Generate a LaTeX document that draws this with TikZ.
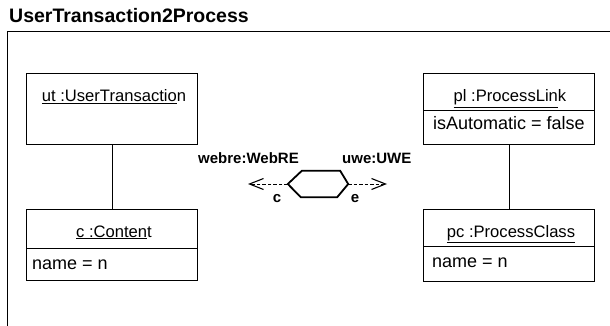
\documentclass[tikz,border=0pt]{standalone}
\usepackage{fontspec}
\setmainfont{Liberation Sans}
\usepackage{tikz}
\usetikzlibrary{arrows.meta,positioning,calc}

\begin{document}
\begin{tikzpicture}[
    x=1pt, y=-1pt,
    objbox/.style={rectangle, draw, line width=0.9pt, minimum width=171pt, inner sep=0pt, anchor=north west},
    objname/.style={font=\fontsize{16.6}{18}\selectfont, anchor=base, inner sep=0pt},
    attr/.style={font=\fontsize{18}{20}\selectfont, anchor=base west, inner sep=0pt},
    dom/.style={font=\fontsize{15}{17}\selectfont\bfseries, inner sep=0pt},
    link/.style={line width=0.9pt},
    dep/.style={dash pattern=on 3.5pt off 2pt, line width=0.9pt, -{Straight Barb[length=14pt,width=11pt,line width=1.1pt]}}
]
\useasboundingbox (0,0) rectangle (610,326);

% Title and frame
\node[font=\fontsize{19.5}{22}\selectfont\bfseries, anchor=base west, inner sep=0pt] (title) at (9,23) {UserTransaction2Process};
\draw[line width=1pt] (7,326) -- (7,32) -- (610,32);

% Left domain objects
\node[objbox, minimum height=71pt] (ut) at (26,73) {};
\node[objname] (utname) at (114,102) {\underline{ut :UserTransactio}n};

\node[objbox, minimum height=39pt] (c) at (26,209) {};
\node[objbox, minimum height=32pt] (cattr) at (26,248) {};
\node[objname] (cname) at (114,237) {\underline{c :Conten}t};
\node[attr] (cval) at (32,269) {name = n};

% Right domain objects
\node[objbox, minimum height=37pt] (pl) at (423,73) {};
\node[objbox, minimum height=34pt] (plattr) at (423,110) {};
\node[objname] (plname) at (510,102) {\underline{pl :ProcessLin}k};
\node[attr] (plval) at (433,130) {isAutomatic = false};

\node[objbox, minimum height=37pt] (pc) at (423,209) {};
\node[objbox, minimum height=35pt] (pcattr) at (423,246) {};
\node[objname] (pcname) at (511,237) {\underline{pc :ProcessClass}};
\node[attr] (pcval) at (432,267) {name = n};

% Links
\draw[link] (ut.south) -- (c.north);
\draw[link] (plattr.south) -- (pc.north);

% Relation
\node[minimum width=60pt, minimum height=26pt, inner sep=0pt] (rel) at (318,184) {};
\draw[line width=1.8pt] (rel.west) -- ([xshift=14pt]rel.north west) -- ([xshift=-8pt]rel.north east)
    -- (rel.east) -- ([xshift=-11pt]rel.south east) -- ([xshift=13pt]rel.south west) -- cycle;

\coordinate (cend) at (248,184);
\coordinate (eend) at (387,184);
\draw[dep] (rel.west) -- (cend);
\draw[dep] (rel.east) -- (eend);

% Domain labels
\node[dom, anchor=base east] (webre) at (299,164) {webre:WebRE};
\node[dom, anchor=base west] (uwe) at (342,164) {uwe:UWE};
\node[dom] (clab) at (277,199) {c};
\node[dom] (elab) at (355,199) {e};

\end{tikzpicture}
\end{document}
